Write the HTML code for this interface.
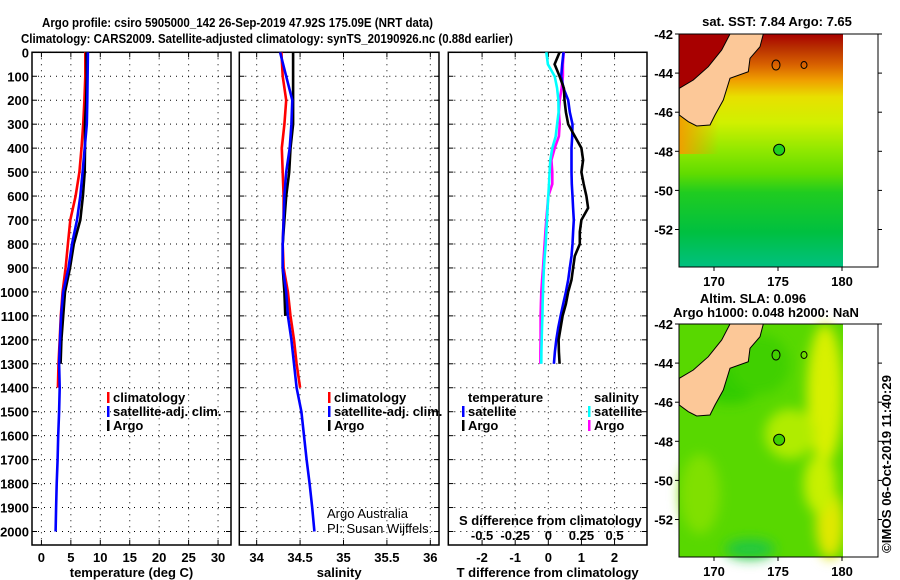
<!DOCTYPE html>
<html><head><meta charset="utf-8"><style>
body{margin:0;background:#fff;}
svg{display:block;font-family:"Liberation Sans",sans-serif;}
.b{font-weight:bold;font-size:13px;}
</style></head><body>
<svg id="c" width="900" height="580" viewBox="0 0 900 580" xmlns="http://www.w3.org/2000/svg">
<defs>
<linearGradient id="sst" x1="0" y1="0" x2="0" y2="1">
<stop offset="0" stop-color="#a80000"/><stop offset="0.06" stop-color="#b83000"/>
<stop offset="0.13" stop-color="#d86000"/><stop offset="0.2" stop-color="#f0a000"/>
<stop offset="0.27" stop-color="#e8e000"/><stop offset="0.38" stop-color="#d0f000"/>
<stop offset="0.5" stop-color="#90e800"/><stop offset="0.6" stop-color="#60dc00"/>
<stop offset="0.68" stop-color="#20cc20"/><stop offset="0.85" stop-color="#00c040"/>
<stop offset="1" stop-color="#00c080"/></linearGradient>
<linearGradient id="sstL" x1="0" y1="0" x2="1" y2="0">
<stop offset="0" stop-color="#f0a000"/><stop offset="1" stop-color="#f0a000" stop-opacity="0"/></linearGradient>
<filter id="bl"><feGaussianBlur stdDeviation="6"/></filter>
</defs>
<g id="titles">
<text class="b" x="42" y="27" font-size="14" textLength="391" lengthAdjust="spacingAndGlyphs">Argo profile: csiro 5905000_142 26-Sep-2019 47.92S 175.09E (NRT data)</text>
<text class="b" x="21" y="43" font-size="14" textLength="492" lengthAdjust="spacingAndGlyphs">Climatology: CARS2009. Satellite-adjusted climatology: synTS_20190926.nc (0.88d earlier)</text>
</g>
<g id="panels"></g>
<g id="maps"></g>
<text class="b" font-weight="normal" font-size="13" transform="translate(891,553) rotate(-90)" textLength="178" lengthAdjust="spacingAndGlyphs">©IMOS 06-Oct-2019 11:40:29</text>
</svg>
<script>
// ---- data ----
const depthsT = [0,100,200,300,400,500,600,700,800,900,1000,1100,1200,1300,1400,1500,1600,1700,1800,1900,2000];
const climT = [7.45,7.45,7.3,7.1,6.8,6.45,5.8,4.9,4.5,4.1,3.6,3.3,3.1,2.9,2.8];
const satT = [7.9,7.85,7.8,7.7,7.35,7.0,6.6,6.05,5.2,4.6,3.7,3.35,3.15,3.0,3.1,3.0,2.85,2.75,2.6,2.5,2.4];
const argoT = [7.65,7.7,7.6,7.4,7.4,7.35,7.05,6.6,5.5,4.85,4.0,3.7,3.4,3.25];
const climS = [34.285,34.30,34.34,34.32,34.29,34.30,34.31,34.31,34.30,34.31,34.36,34.39,34.43,34.46,34.50];
const satS = [34.27,34.34,34.41,34.40,34.38,34.34,34.32,34.31,34.30,34.30,34.34,34.36,34.40,34.43,34.46,34.515,34.545,34.575,34.61,34.64,34.665];
const argoS = [34.42,34.42,34.42,34.42,34.39,34.375,34.34,34.32,34.30,34.30,34.32,34.33];
const depthsD = [0,50,100,150,200,250,300,350,400,450,500,550,600,650,700,750,800,850,900,950,1000,1050,1100,1150,1200,1250,1300];
const argoDT = [0.34,0.19,0.34,0.47,0.49,0.53,0.6,0.8,1.0,1.05,1.0,1.07,1.15,1.2,1.0,0.95,0.95,0.8,0.75,0.7,0.6,0.53,0.43,0.37,0.31,0.32,0.34];
const satDT = [0.46,0.42,0.39,0.46,0.6,0.65,0.73,0.72,0.7,0.7,0.7,0.71,0.73,0.75,0.77,0.75,0.73,0.7,0.65,0.6,0.53,0.45,0.37,0.3,0.24,0.2,0.17];
const satDS = [-0.015,-0.003,0.048,0.066,0.076,0.078,0.066,0.056,0.03,0.015,0.01,0.005,0,-0.005,-0.01,-0.015,-0.02,-0.027,-0.033,-0.037,-0.04,-0.043,-0.045,-0.048,-0.05,-0.052,-0.053];
const argoDS = [0.116,0.11,0.11,0.1,0.086,0.08,0.086,0.08,0.048,0.023,0.03,0.03,0,-0.008,-0.015,-0.022,-0.028,-0.034,-0.04,-0.047,-0.053,-0.056,-0.058,-0.058,-0.058,-0.06,-0.06];
const depthTicks = [0,100,200,300,400,500,600,700,800,900,1000,1100,1200,1300,1400,1500,1600,1700,1800,1900,2000];
const tTicks = [0,5,10,15,20,25,30];
const sTicks = [34,34.5,35,35.5,36];
const dtTicks = [-2,-1,0,1,2];
const dsTicks = [-0.5,-0.25,0,0.25,0.5];
const latTicks = [-42,-44,-46,-48,-50,-52];
const lonTicks = [170,175,180];

const NS='http://www.w3.org/2000/svg';
function mk(tag,attrs,parent,text){const e=document.createElementNS(NS,tag);for(const k in attrs)e.setAttribute(k,attrs[k]);if(text!==undefined)e.textContent=text;parent.appendChild(e);return e;}
const yD = d => 52.3 + d*0.2396;
const TOP=52.3, BOT=545;
const panels=[
 {x0:32,x1:231,v0:-1.6,v1:32.2,ticks:tTicks,lab:"temperature (deg C)",name:"temperature-panel"},
 {x0:239.3,x1:439,v0:33.8,v1:36.1,ticks:sTicks,lab:"salinity",name:"salinity-panel"},
 {x0:448.3,x1:647,v0:-3.02,v1:2.98,ticks:dtTicks,lab:"T difference from climatology",name:"difference-panel"}];
panels.forEach(p=>{p.sx=v=>p.x0+(v-p.v0)/(p.v1-p.v0)*(p.x1-p.x0);});
const root=document.getElementById('panels');
panels.forEach((p,i)=>{
 const g=mk('g',{},root);
 
 
 depthTicks.forEach(d=>{
  const y=yD(d);
  const l=mk('line',{x1:p.x0,x2:p.x1,y1:y,y2:y,stroke:'#000','stroke-width':1,'stroke-dasharray':'1 5'},g);
  
  
  mk('line',{x1:p.x0,x2:p.x0+5,y1:y,y2:y,stroke:'#000'},g);
  mk('line',{x1:p.x1-5,x2:p.x1,y1:y,y2:y,stroke:'#000'},g);
  if(i==0){const t=mk('text',{x:29,y:y+5,'text-anchor':'end',class:'b'},g,String(d));
   
   }
 });
 p.ticks.forEach(v=>{
  const x=p.sx(v);
  const l=mk('line',{x1:x,x2:x,y1:TOP,y2:BOT,stroke:'#000','stroke-dasharray':'1 5'},g);
  
  
  mk('line',{x1:x,x2:x,y1:TOP,y2:TOP+5,stroke:'#000'},g);
  mk('line',{x1:x,x2:x,y1:BOT-5,y2:BOT,stroke:'#000'},g);
  const t=mk('text',{x:x,y:562,'text-anchor':'middle',class:'b'},g,String(v));
  
  
 });
 const fr=mk('rect',{x:p.x0,y:TOP,width:p.x1-p.x0,height:BOT-TOP,fill:'none',stroke:'#000','stroke-width':1.5},g);
 
 
 const al=mk('text',{x:(p.x0+p.x1)/2,y:577,'text-anchor':'middle',class:'b'},g,p.lab);
 
 
});
function line(depths,vals,sx,color,name){
 const pts=vals.map((v,i)=>sx(v).toFixed(1)+','+yD(depths[i]).toFixed(1)).join(' ');
 const pl=mk('polyline',{points:pts,fill:'none',stroke:color,'stroke-width':2.6},root);
 
 
}
const sxS=v=>panels[2].sx(v*4);
line(depthsT.slice(0,climT.length),climT,panels[0].sx,'#f00','climatology-temperature-line');
line(depthsT.slice(0,argoT.length),argoT,panels[0].sx,'#000','argo-temperature-line');
line(depthsT,satT,panels[0].sx,'#00f','satellite-temperature-line');
line(depthsT.slice(0,climS.length),climS,panels[1].sx,'#f00','climatology-salinity-line');
line(depthsT.slice(0,argoS.length),argoS,panels[1].sx,'#000','argo-salinity-line');
line(depthsT,satS,panels[1].sx,'#00f','satellite-salinity-line');
line(depthsD,argoDS,sxS,'#f0f','argo-salinity-diff-line');
line(depthsD,satDS,sxS,'#0ff','satellite-salinity-diff-line');
line(depthsD,satDT,panels[2].sx,'#00f','satellite-temperature-diff-line');
line(depthsD,argoDT,panels[2].sx,'#000','argo-temperature-diff-line');
// S diff ticks
dsTicks.forEach(v=>{const t=mk('text',{x:sxS(v),y:540,'text-anchor':'middle',class:'b'},root,String(v).replace('0.','0.'));
 
 });
const sdt=mk('text',{x:459,y:525,class:'b'},root,'S difference from climatology');


// legends
function leg(x,y,color,text,name){
 const g=mk('g',{},root);
 
 
 if(color)mk('rect',{x:x-6,y:y-10,width:2.5,height:11,fill:color},g);
 mk('text',{x:x,y:y,class:'b'},g,text);
}
leg(113,402,'#f00','climatology','legend-climatology');
leg(113,416,'#00f','satellite-adj. clim.','legend-satellite');
leg(113,430,'#000','Argo','legend-argo');
leg(334,402,'#f00','climatology','legend-climatology');
leg(334,416,'#00f','satellite-adj. clim.','legend-satellite');
leg(334,430,'#000','Argo','legend-argo');
leg(468,402,null,'temperature','legend-temperature-header');
leg(468,416,'#00f','satellite','legend-t-satellite');
leg(468,430,'#000','Argo','legend-t-argo');
leg(594,402,null,'salinity','legend-salinity-header');
leg(594,416,'#0ff','satellite','legend-s-satellite');
leg(594,430,'#f0f','Argo','legend-s-argo');
const c1=mk('text',{x:327,y:518,'font-size':13},root,'Argo Australia');


const c2=mk('text',{x:327,y:533,'font-size':13},root,'PI: Susan Wijffels');



// ---- maps ----
const mroot=document.getElementById('maps');
const land=[[730,34],[763.3,34],[760,46.7],[750,58.3],[748.3,71.7],[730,78.3],[723.3,100],[715,115],[710,125],[696.7,126],[688.3,121.7],[679.3,115],[679.3,88.3],[693.3,80],[708.3,66.7],[721.7,50]];
function map(oy,kind,titles){
 const g=mk('g',{},mroot);
 
 
 const X0=679,X1=878,XD=843,Y0=34+oy,Y1=267+oy;
 const lon=v=>714+(v-170)*12.8, lat=v=>Y0+(-42-v)*19.55;
 if(kind=='sst'){
  mk('rect',{x:X0,y:Y0,width:XD-X0,height:Y1-Y0,fill:'url(#sst)'},g);
  mk('rect',{x:X0,y:Y0+60,width:40,height:60,fill:'url(#sstL)'},g);
  mk('polygon',{points:`${X0},${Y0} 732,${Y0} 700,${Y0+50} ${X0},${Y0+62}`,fill:'#a80000'},g);
 } else {
  mk('rect',{x:X0,y:Y0,width:XD-X0,height:Y1-Y0,fill:'#58d800'},g);
  const gb=mk('g',{filter:'url(#bl)'},g);
  [[825,Y0+70,18,70,'#d8f000'],[790,Y0+110,25,25,'#b0ec00'],[830,Y0+200,14,35,'#e0e800'],[820,Y0+160,16,30,'#c8f000'],[730,Y0+60,30,20,'#30cc00'],[700,Y0+170,20,40,'#80e000'],[750,Y0+225,25,10,'#20c840'],[760,Y0+40,30,30,'#40d000']].forEach(e=>mk('ellipse',{cx:e[0],cy:e[1],rx:e[2],ry:e[3],fill:e[4]},gb));
 }
 mk('rect',{x:XD,y:Y0,width:X1-XD,height:Y1-Y0,fill:'#fff'},g);
 mk('polygon',{points:land.map(p=>p[0]+','+(p[1]+oy)).join(' '),fill:'#fcc898',stroke:'#000','stroke-width':1},g);
 mk('circle',{cx:lon(175.09),cy:lat(-47.92),r:5.5,fill:kind=='sst'?'#20d020':'#40d000',stroke:'#000'},g);
 mk('ellipse',{cx:776,cy:Y0+31,rx:4,ry:5,fill:'none',stroke:'#000'},g);
 mk('ellipse',{cx:804,cy:Y0+31,rx:3,ry:3.5,fill:'none',stroke:'#000'},g);
 const fr=mk('rect',{x:X0,y:Y0,width:X1-X0,height:Y1-Y0,fill:'none',stroke:'#000'},g);
 
 
 latTicks.forEach(v=>{const y=lat(v);
  mk('line',{x1:X0-4,x2:X0,y1:y,y2:y,stroke:'#000'},g);
  mk('line',{x1:X1,x2:X1+4,y1:y,y2:y,stroke:'#000'},g);
  const t=mk('text',{x:673,y:y+5,'text-anchor':'end',class:'b'},g,String(v));
  
  });
 lonTicks.forEach(v=>{const x=lon(v);
  mk('line',{x1:x,x2:x,y1:Y1,y2:Y1+4,stroke:'#000'},g);
  const t=mk('text',{x:x,y:Y1+19,'text-anchor':'middle',class:'b'},g,String(v));
  
  });
 titles.forEach((t,i)=>{const e=mk('text',{x:t[1],y:t[2],'text-anchor':'middle',class:'b'},g,t[0]);
  
  });
}
map(0,'sst',[['sat. SST: 7.84 Argo: 7.65',777,26]]);
map(290,'sla',[['Altim. SLA: 0.096',753,303],['Argo h1000: 0.048 h2000: NaN',766,317]]);
</script>
</body></html>
